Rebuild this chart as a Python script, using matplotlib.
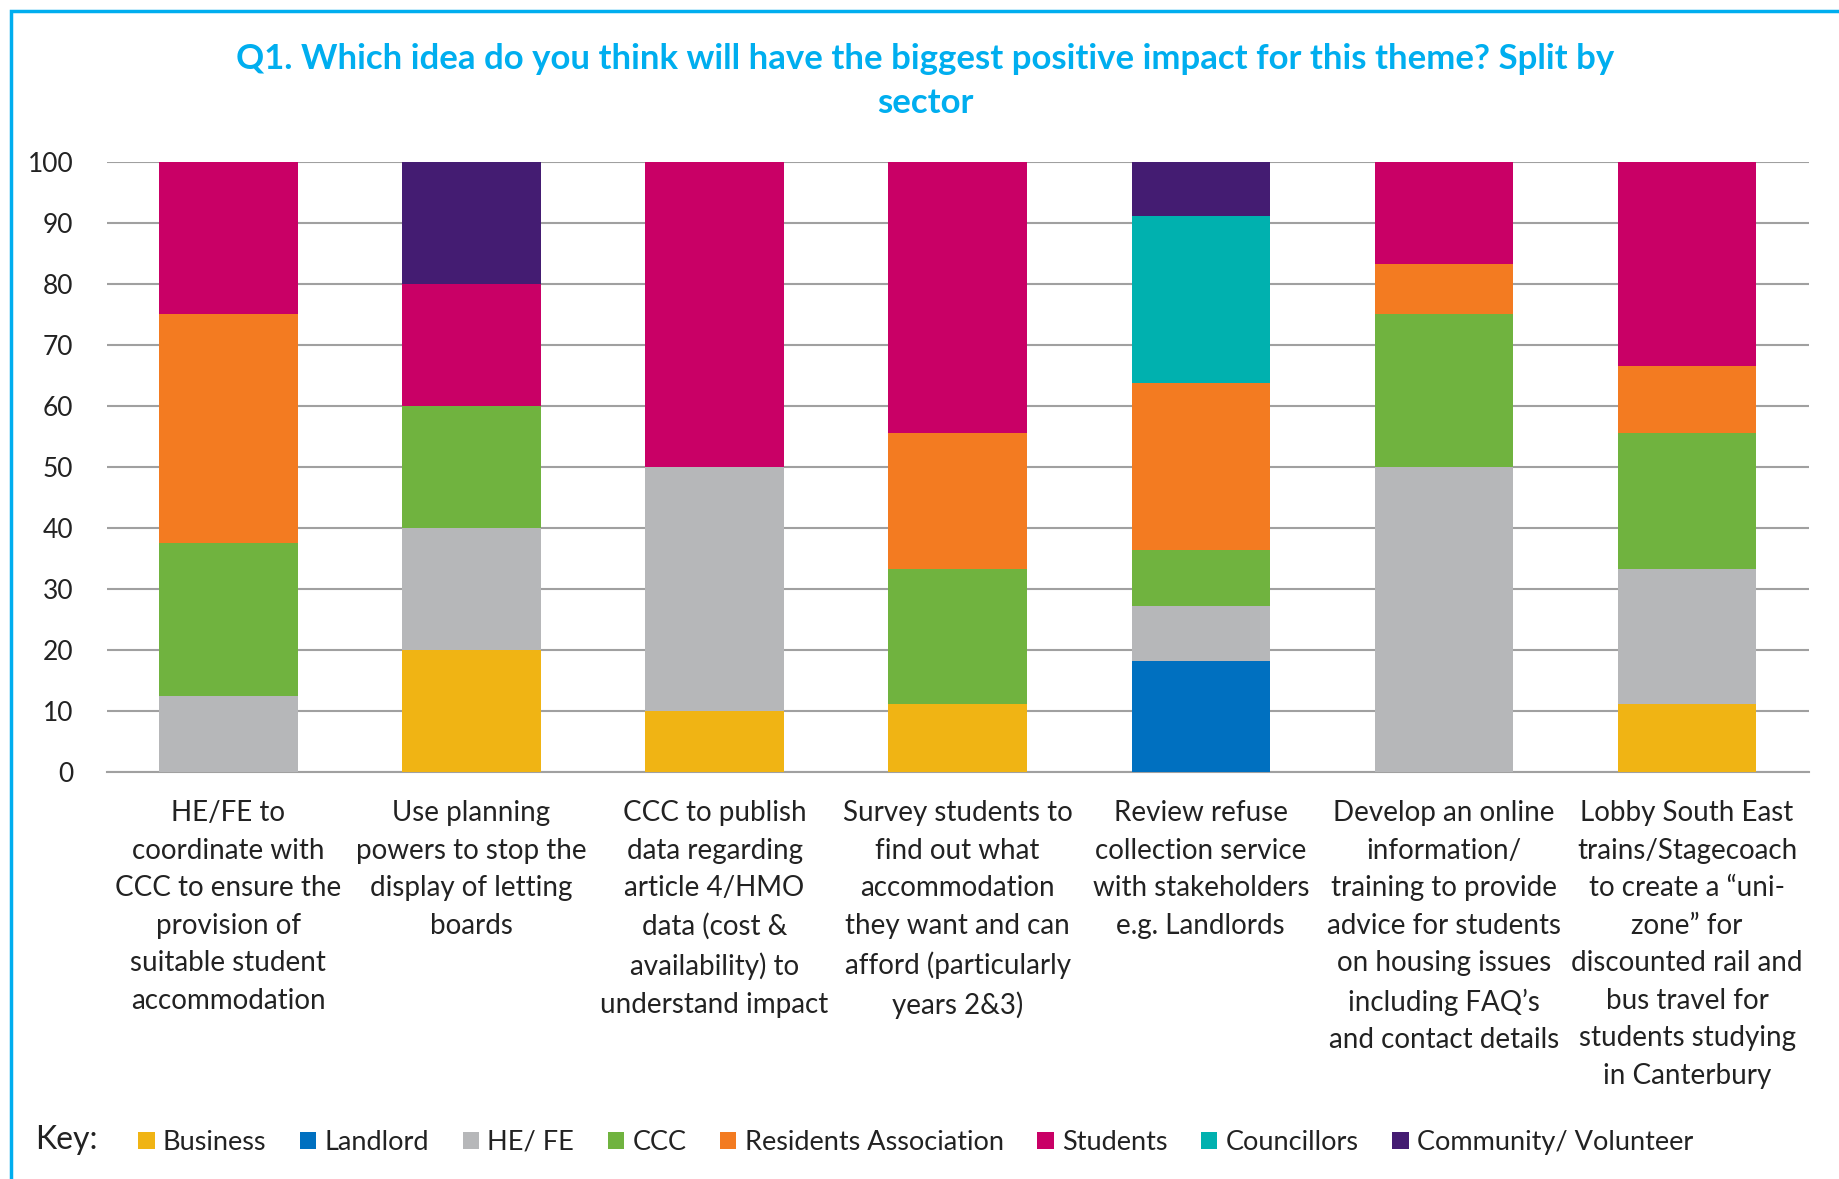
import matplotlib.pyplot as plt
from matplotlib.patches import Rectangle

plt.rcParams['font.family'] = ['Lato', 'DejaVu Sans']

# ideas (x categories), wrapped as on the chart
ideas = [
    "HE/FE to\ncoordinate with\nCCC to ensure the\nprovision of\nsuitable student\naccommodation",
    "Use planning\npowers to stop the\ndisplay of letting\nboards",
    "CCC to publish\ndata regarding\narticle 4/HMO\ndata (cost &\navailability) to\nunderstand impact",
    "Survey students to\nfind out what\naccommodation\nthey want and can\nafford (particularly\nyears 2&3)",
    "Review refuse\ncollection service\nwith stakeholders\ne.g. Landlords",
    "Develop an online\ninformation/\ntraining to provide\nadvice for students\non housing issues\nincluding FAQ\u2019s\nand contact details",
    "Lobby South East\ntrains/Stagecoach\nto create a \u201cuni-\nzone\u201d for\ndiscounted rail and\nbus travel for\nstudents studying\nin Canterbury",
]

sectors = ["Business", "Landlord", "HE/ FE", "CCC", "Residents Association",
           "Students", "Councillors", "Community/ Volunteer"]
colors = ["#F0B414", "#0070C0", "#B6B7B9", "#70B33F", "#F37B21",
          "#C90066", "#00B1AF", "#441C72"]

# percentages per sector, one value per idea
business    = [0,    20, 10, 11.1, 0,    0,    11.1]
landlord    = [0,    0,  0,  0,    18.2, 0,    0]
he_fe       = [12.5, 20, 40, 0,    9.1,  50,   22.2]
ccc         = [25,   20, 0,  22.2, 9.1,  25,   22.2]
residents   = [37.5, 0,  0,  22.2, 27.3, 8.3,  11.1]
students    = [25,   20, 50, 44.5, 0,    16.7, 33.4]
councillors = [0,    0,  0,  0,    27.3, 0,    0]
community   = [0,    20, 0,  0,    9.0,  0,    0]
series = [business, landlord, he_fe, ccc, residents, students, councillors, community]

fig = plt.figure(figsize=(18.39, 11.79), dpi=100)
ax = fig.add_axes([0.058, 0.345, 0.9255, 0.518])

x = range(len(ideas))
bottom = [0.0] * len(ideas)
handles = []
for vals, name, col in zip(series, sectors, colors):
    b = ax.bar(x, vals, 0.57, bottom=bottom, color=col, label=name, zorder=3)
    handles.append(b)
    bottom = [p + v for p, v in zip(bottom, vals)]

ax.set_ylim(0, 100)
ax.set_xlim(-0.5, len(ideas) - 0.5)
ax.set_yticks(range(0, 101, 10))
ax.yaxis.grid(True, color='#A0A0A0', linewidth=1.5, zorder=0)
ax.set_axisbelow(True)
for s in ['top', 'right', 'left']:
    ax.spines[s].set_visible(False)
ax.spines['bottom'].set_color('#A0A0A0')
ax.spines['bottom'].set_linewidth(1.5)
ax.tick_params(axis='both', length=0, labelsize=19, colors='#222222')
ax.tick_params(axis='y', pad=24)
ax.tick_params(axis='x', pad=20, labelsize=20)
ax.set_xticks(list(x))
ax.set_xticklabels(ideas, linespacing=1.55, va='top')

fig.text(0.503, 0.950, "Q1. Which idea do you think will have the biggest positive impact for this theme? Split by",
         ha='center', va='center', fontsize=25, fontweight='bold', color='#00AEEF')
fig.text(0.503, 0.913, "sector", ha='center', va='center', fontsize=25,
         fontweight='bold', color='#00AEEF')

fig.text(0.019, 0.033, "Key:", fontsize=23, va='center', color='#222222')
fig.legend(handles, sectors, loc='center left', bbox_to_anchor=(0.062, 0.031),
           ncol=8, frameon=False, fontsize=19.5, handlelength=0.6, handleheight=0.6,
           handletextpad=0.3, columnspacing=1.25, labelcolor='#222222')

# outer chart border
fig.patches.append(Rectangle((0.006, -0.02), 1.1, 1.011, transform=fig.transFigure,
                             fill=False, edgecolor='#00AEEF', linewidth=2.5))

fig.savefig("out.png", dpi=100)
